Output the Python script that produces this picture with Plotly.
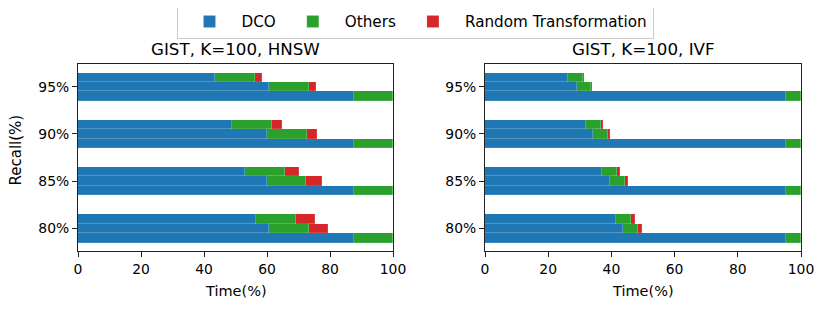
import plotly.graph_objects as go

recall = ["80%", "85%", "90%", "95%"]
series = ["DCO", "Others", "Random Transformation"]
colors = ["#1f77b4", "#2ca02c", "#d62728"]
x_ticks = [0, 20, 40, 60, 80, 100]

# HNSW panel: three bars per recall level (top, middle, bottom)
hnsw_top_dco = [56.5, 53.1, 49.0, 43.6]
hnsw_top_others = [12.6, 12.5, 12.6, 12.6]
hnsw_top_rt = [6.2, 4.7, 3.3, 2.1]
hnsw_mid_dco = [60.7, 60.0, 60.1, 60.7]
hnsw_mid_others = [12.5, 12.4, 12.6, 12.6]
hnsw_mid_rt = [6.1, 4.9, 3.3, 2.1]
hnsw_bot_dco = [87.5, 87.5, 87.5, 87.5]
hnsw_bot_others = [12.5, 12.5, 12.5, 12.5]
hnsw_bot_rt = [0.0, 0.0, 0.0, 0.0]

# IVF panel
ivf_top_dco = [41.5, 37.1, 31.9, 26.2]
ivf_top_others = [4.8, 4.8, 4.8, 4.9]
ivf_top_rt = [1.1, 0.9, 0.5, 0.2]
ivf_mid_dco = [43.8, 39.5, 34.3, 29.0]
ivf_mid_others = [4.6, 4.8, 4.6, 4.7]
ivf_mid_rt = [1.2, 0.8, 0.6, 0.3]
ivf_bot_dco = [95.3, 95.3, 95.3, 95.3]
ivf_bot_others = [4.7, 4.7, 4.7, 4.7]
ivf_bot_rt = [0.0, 0.0, 0.0, 0.0]

# The page body has an 8px margin, so the figure is 8px smaller than the window
PAGE_OFF = 8
W, H = 830 - PAGE_OFF, 312 - PAGE_OFF
FONT = "DejaVu Sans"
BAR_W = 0.2
offsets = [BAR_W, 0.0, -BAR_W]  # top, middle, bottom

panels = [
    ("x", "y", [
        [hnsw_top_dco, hnsw_top_others, hnsw_top_rt],
        [hnsw_mid_dco, hnsw_mid_others, hnsw_mid_rt],
        [hnsw_bot_dco, hnsw_bot_others, hnsw_bot_rt],
    ]),
    ("x2", "y2", [
        [ivf_top_dco, ivf_top_others, ivf_top_rt],
        [ivf_mid_dco, ivf_mid_others, ivf_mid_rt],
        [ivf_bot_dco, ivf_bot_others, ivf_bot_rt],
    ]),
]

fig = go.Figure()
for p, (xa, ya, groups) in enumerate(panels):
    for s, name in enumerate(series):
        xs, ys = [], []
        for g, off in enumerate(offsets):
            for i in range(len(recall)):
                xs.append(groups[g][s][i])
                ys.append(i + off)
        fig.add_trace(go.Bar(
            x=xs, y=ys, orientation="h", width=BAR_W, name=name,
            marker=dict(color=colors[s], line=dict(width=0.4, color="rgba(255,255,255,0.3)")),
            xaxis=xa, yaxis=ya, showlegend=(p == 0), legendgroup=name,
        ))

def px_x(v):
    return (v - PAGE_OFF) / W

def px_y(v):
    return 1 - (v - PAGE_OFF) / H

ydom = [px_y(251), px_y(64)]
axis_common = dict(
    showline=True, mirror=True, linecolor="#222222", linewidth=1,
    ticks="outside", ticklen=5, tickwidth=1, tickcolor="#222222",
    showgrid=False, zeroline=False, automargin=False,
    tickfont=dict(family=FONT, size=13.9, color="black"),
)
fig.update_layout(
    width=W, height=H, barmode="stack",
    margin=dict(l=0, r=0, t=0, b=0, autoexpand=False),
    paper_bgcolor="white", plot_bgcolor="white",
    font=dict(family=FONT, color="black"),
    bargap=0,
    xaxis=dict(domain=[px_x(78), px_x(393)], range=[0, 100], tickvals=x_ticks,
               anchor="y", **axis_common),
    yaxis=dict(domain=ydom, range=[-0.48, 3.48], tickvals=list(range(len(recall))),
               ticktext=recall, anchor="x", **axis_common),
    xaxis2=dict(domain=[px_x(485), px_x(801)], range=[0, 100], tickvals=x_ticks,
                anchor="y2", **axis_common),
    yaxis2=dict(domain=ydom, range=[-0.48, 3.48], tickvals=list(range(len(recall))),
                ticktext=recall, anchor="x2", **axis_common),
    legend=dict(orientation="h", x=px_x(415), xanchor="center", y=px_y(4), yanchor="top",
                font=dict(family=FONT, size=15.2, color="black"),
                bordercolor="#cccccc", borderwidth=1, bgcolor="white",
                traceorder="normal", itemwidth=54),
)

annots = [
    dict(text="GIST, K=100, HNSW", x=px_x(235.5), y=px_y(48.5), size=16.7),
    dict(text="GIST, K=100, IVF", x=px_x(643), y=px_y(48.5), size=16.7),
    dict(text="Time(%)", x=px_x(235.5), y=px_y(291), size=14.5),
    dict(text="Time(%)", x=px_x(643), y=px_y(291), size=14.5),
]
for a in annots:
    fig.add_annotation(text=a["text"], x=a["x"], y=a["y"], xref="paper", yref="paper",
                       xanchor="center", yanchor="middle", showarrow=False,
                       font=dict(family=FONT, size=a["size"], color="black"))
fig.add_annotation(text="Recall(%)", x=px_x(15.5), y=px_y(150), xref="paper", yref="paper",
                   xanchor="center", yanchor="middle", showarrow=False, textangle=-90,
                   font=dict(family=FONT, size=15, color="black"))

fig.write_html("out.html")
